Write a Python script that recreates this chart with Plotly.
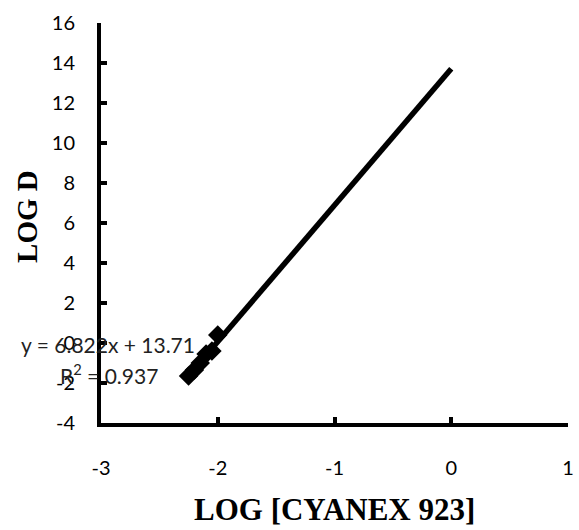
import plotly.graph_objects as go

# data
log_cyanex = [-2.25, -2.20, -2.15, -2.10, -2.05, -2.00]
log_d = [-1.65, -1.35, -1.00, -0.55, -0.40, 0.40]
slope = 6.822
intercept = 13.71
r2 = 0.937
x_ticks = [-3, -2, -1, 0, 1]
y_ticks = [-4, -2, 0, 2, 4, 6, 8, 10, 12, 14, 16]
x_title = "LOG [CYANEX 923]"
y_title = "LOG D"

line_x = [min(log_cyanex), 0]
line_y = [slope * v + intercept for v in line_x]

fig = go.Figure()
fig.add_trace(go.Scatter(x=line_x, y=line_y, mode="lines",
                         line=dict(color="black", width=5.5), showlegend=False))
fig.add_trace(go.Scatter(x=log_cyanex, y=log_d, mode="markers",
                         marker=dict(symbol="diamond", size=15, color="black"),
                         showlegend=False))

fig.update_layout(
    width=579, height=530,
    margin=dict(l=101, r=5, t=23, b=107),
    paper_bgcolor="white", plot_bgcolor="white",
    font=dict(family="Lato", size=20, color="black"),
    xaxis=dict(range=[-3, 1], tickvals=x_ticks, ticktext=[str(v) for v in x_ticks],
               showgrid=False, zeroline=False, ticklabeloverflow="allow",
               showline=True, linecolor="black", linewidth=4,
               ticks="inside", ticklen=6, tickwidth=4, tickcolor="black",
               ticklabelstandoff=24),
    yaxis=dict(range=[-4, 16], tickvals=y_ticks, ticktext=[str(v) for v in y_ticks],
               showgrid=False, zeroline=False, ticklabeloverflow="allow",
               showline=True, linecolor="black", linewidth=4,
               ticks="inside", ticklen=6, tickwidth=4, tickcolor="black",
               ticklabelstandoff=18),
)

pw = 579 - 101 - 5
ph = 530 - 23 - 107


def px_to_paper(px, py):
    return (px - 101) / pw, (530 - 107 - py) / ph


def add_text(text, px, py, size, family="Lato", color="black", angle=0):
    x, y = px_to_paper(px, py)
    fig.add_annotation(x=x, y=y, xref="paper", yref="paper", text=text,
                       xanchor="center", yanchor="middle", textangle=angle,
                       showarrow=False, font=dict(size=size, family=family, color=color))


add_text(f"<b>{x_title}</b>", 338, 509, 31, family="Liberation Serif")
add_text(f"<b>{y_title}</b>", 26, 216, 29, family="Liberation Serif", angle=-90)
add_text(f"y = {slope}x + {intercept}", 108, 344, 21, color="#222")
add_text(f"R<sup>2</sup> = {r2}", 109, 374, 21, color="#222")

fig.write_html("out.html")
